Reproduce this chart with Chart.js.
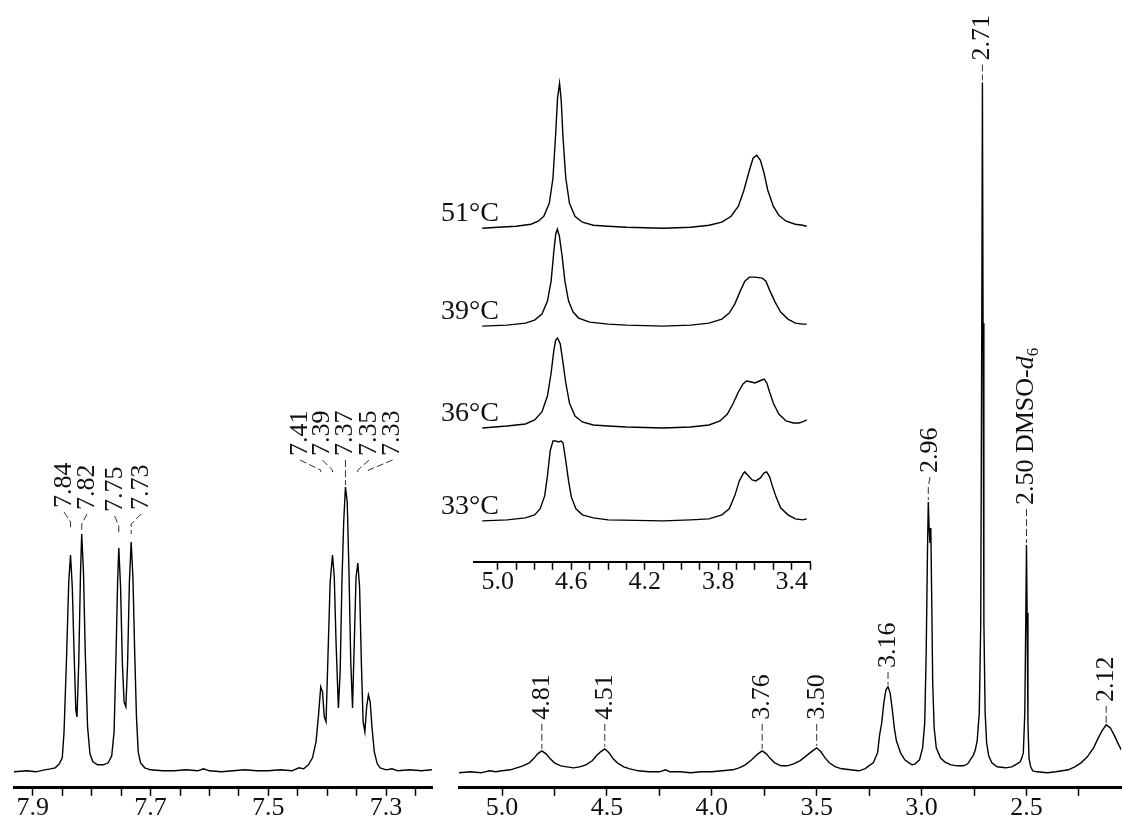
<!DOCTYPE html>
<html>
<head>
<meta charset="utf-8">
<title>1H NMR spectrum</title>
<script src="https://cdn.jsdelivr.net/npm/chart.js@4.4.0/dist/chart.umd.min.js"></script>
<style>
  html, body { margin: 0; padding: 0; background: #fff; overflow: hidden; }
  body { width: 1122px; height: 818px; position: relative; }
  .panel { position: absolute; top: 0; }
</style>
</head>
<body>
<div class="panel" id="aromaticWrap" style="left:0px"><canvas id="aromaticChart" width="445" height="830"></canvas></div>
<div class="panel" id="aliphaticWrap" style="left:440px"><canvas id="aliphaticChart" width="682" height="830"></canvas></div>
<div class="panel" id="insetWrap" style="left:380px"><canvas id="insetChart" width="460" height="620"></canvas></div>

<script>
// ---- aromatic region (ppm, height above baseline) ----
const aromaticPpm = [7.932, 7.91, 7.895, 7.88, 7.87, 7.862, 7.855, 7.850, 7.847, 7.843, 7.839, 7.836, 7.833, 7.830, 7.827, 7.825,
  7.822, 7.819, 7.817, 7.814, 7.811, 7.807, 7.803, 7.798, 7.79, 7.78, 7.772, 7.766, 7.762, 7.759, 7.756, 7.754, 7.751, 7.748,
  7.745, 7.742, 7.739, 7.736, 7.733, 7.730, 7.727, 7.724, 7.721, 7.717, 7.71, 7.70, 7.68, 7.66, 7.64, 7.62, 7.61, 7.60, 7.58,
  7.56, 7.54, 7.52, 7.50, 7.48, 7.46, 7.448, 7.44, 7.432, 7.425, 7.419, 7.415, 7.411, 7.408, 7.405, 7.402, 7.399, 7.395, 7.391,
  7.388, 7.385, 7.381, 7.378, 7.375, 7.372, 7.369, 7.366, 7.363, 7.360, 7.357, 7.354, 7.351, 7.348, 7.345, 7.342, 7.339, 7.336,
  7.333, 7.330, 7.327, 7.324, 7.320, 7.315, 7.31, 7.30, 7.29, 7.28, 7.26, 7.24, 7.222];
const aromaticInt = [0, 1, 0, 2, 3, 4, 8, 14, 40, 110, 190, 217, 185, 120, 62, 55,
  110, 200, 238, 200, 120, 45, 18, 10, 7, 7, 9, 16, 40, 110, 190, 224, 185, 110,
  70, 65, 110, 190, 230, 195, 120, 55, 20, 9, 4, 2, 1, 1, 2, 1, 3, 1, 0,
  1, 2, 1, 1, 2, 1, 4, 3, 7, 14, 30, 55, 85, 80, 55, 50, 110, 190, 217,
  195, 130, 64, 100, 190, 250, 285, 270, 200, 110, 64, 130, 195, 209, 185, 110, 50, 40,
  65, 77, 70, 45, 20, 8, 4, 2, 3, 1, 2, 1, 2];
const aromaticTicks = ['7.9', '7.7', '7.5', '7.3'];
const aromaticLabels = ['7.84', '7.82', '7.75', '7.73', '7.41', '7.39', '7.37', '7.35', '7.33'];
const aromaticPeakPpm = [7.836, 7.817, 7.754, 7.733, 7.411, 7.391, 7.369, 7.348, 7.330];

// ---- aliphatic region (ppm, height above baseline) ----
const aliphaticPpm = [5.205, 5.15, 5.10, 5.06, 5.03, 5.00, 4.96, 4.93, 4.90, 4.87, 4.85, 4.83, 4.81, 4.79, 4.77, 4.75, 4.72,
  4.69, 4.66, 4.63, 4.60, 4.57, 4.55, 4.53, 4.51, 4.49, 4.47, 4.45, 4.42, 4.39, 4.35, 4.30, 4.25, 4.22, 4.20, 4.15, 4.10,
  4.05, 4.00, 3.95, 3.90, 3.87, 3.84, 3.81, 3.78, 3.76, 3.74, 3.72, 3.70, 3.67, 3.64, 3.61, 3.58, 3.55, 3.52, 3.50, 3.48,
  3.46, 3.44, 3.41, 3.38, 3.34, 3.30, 3.27, 3.245, 3.23, 3.21, 3.20, 3.19, 3.18, 3.17, 3.16, 3.15, 3.14, 3.13, 3.12, 3.10,
  3.08, 3.06, 3.045, 3.03, 3.01, 2.995, 2.985, 2.978, 2.972, 2.968, 2.964, 2.960, 2.956, 2.952, 2.947, 2.94, 2.93, 2.91,
  2.89, 2.86, 2.83, 2.80, 2.78, 2.765, 2.755, 2.745, 2.735, 2.725, 2.718, 2.713, 2.710, 2.707, 2.703, 2.697, 2.69, 2.68,
  2.665, 2.64, 2.60, 2.57, 2.545, 2.53, 2.522, 2.515, 2.508, 2.503, 2.500, 2.497, 2.493, 2.488, 2.48, 2.47, 2.45, 2.40,
  2.36, 2.33, 2.30, 2.27, 2.24, 2.21, 2.18, 2.16, 2.14, 2.12, 2.10, 2.08, 2.065, 2.048];
const aliphaticInt = [0, 1, 0, 2, 1, 2, 3, 5, 7, 10, 14, 19, 22, 19, 14, 10, 7,
  6, 5, 6, 8, 12, 17, 21, 24, 20, 14, 10, 6, 4, 2, 1, 1, 3, 1, 1, 0,
  1, 1, 2, 3, 5, 8, 13, 19, 22, 19, 14, 10, 7, 7, 9, 12, 17, 22, 25, 21,
  15, 10, 6, 4, 3, 2, 4, 8, 10, 20, 38, 50, 70, 83, 86, 80, 64, 45, 32, 20,
  13, 10, 8, 9, 13, 25, 50, 120, 220, 271, 245, 230, 245, 180, 90, 45, 25, 15,
  11, 8, 7, 7, 9, 14, 17, 22, 32, 60, 150, 450, 691, 450, 150, 60, 30, 17,
  10, 6, 5, 6, 9, 11, 15, 20, 60, 160, 228, 160, 50, 15, 6, 2, 1, 0,
  1, 2, 3, 6, 10, 16, 25, 34, 42, 48, 45, 37, 30, 23];
const aliphaticTicks = ['5.0', '4.5', '4.0', '3.5', '3.0', '2.5'];
const aliphaticLabels = ['4.81', '4.51', '3.76', '3.50', '3.16', '2.96', '2.71', '2.50 DMSO-d6', '2.12'];
const aliphaticPeakPpm = [4.81, 4.51, 3.76, 3.50, 3.16, 2.968, 2.710, 2.500, 2.12];

// ---- inset: variable temperature traces (ppm, height above own baseline) ----
const insetTemps = ['51°C', '39°C', '36°C', '33°C'];
const t51Ppm = [5.085, 5.0, 4.90, 4.82, 4.78, 4.75, 4.72, 4.70, 4.685, 4.675, 4.664, 4.655, 4.645, 4.63, 4.61, 4.58, 4.54,
  4.48, 4.40, 4.30, 4.10, 3.95, 3.85, 3.78, 3.73, 3.69, 3.66, 3.63, 3.61, 3.59, 3.57, 3.55, 3.53, 3.50, 3.47, 3.43, 3.38, 3.34, 3.318];
const t51Int = [0, 1, 2, 4, 7, 12, 25, 50, 95, 130, 145, 128, 90, 50, 25, 12, 6,
  3, 2, 1, 0, 1, 3, 6, 12, 22, 38, 58, 70, 73, 68, 55, 38, 22, 13, 7, 4, 3, 2];
const t39Ppm = [5.085, 4.95, 4.85, 4.80, 4.76, 4.73, 4.71, 4.695, 4.685, 4.676, 4.665, 4.65, 4.635, 4.615, 4.59, 4.56, 4.50,
  4.40, 4.30, 4.10, 3.95, 3.85, 3.78, 3.74, 3.71, 3.68, 3.655, 3.63, 3.60, 3.56, 3.54, 3.52, 3.49, 3.46, 3.42, 3.38, 3.34, 3.318];
const t39Int = [0, 1, 3, 6, 12, 25, 45, 75, 92, 97, 90, 70, 45, 25, 14, 8, 4,
  2, 1, 0, 1, 3, 7, 13, 22, 35, 45, 49, 49, 48, 45, 36, 24, 14, 7, 3, 2, 2];
const t36Ppm = [5.085, 4.95, 4.85, 4.80, 4.76, 4.73, 4.71, 4.695, 4.685, 4.675, 4.66, 4.645, 4.63, 4.61, 4.58, 4.54, 4.48,
  4.40, 4.30, 4.10, 3.95, 3.85, 3.79, 3.75, 3.72, 3.69, 3.665, 3.645, 3.62, 3.60, 3.575, 3.55, 3.535, 3.52, 3.50, 3.47,
  3.43, 3.39, 3.36, 3.34, 3.318];
const t36Int = [0, 2, 4, 8, 16, 32, 55, 78, 88, 90, 84, 65, 45, 25, 12, 6, 3,
  2, 1, 0, 1, 3, 7, 14, 24, 36, 44, 47, 46, 45, 47, 49, 45, 36, 25, 14,
  7, 5, 5, 6, 8];
const t33Ppm = [5.085, 4.95, 4.85, 4.80, 4.77, 4.745, 4.73, 4.715, 4.70, 4.685, 4.67, 4.655, 4.645, 4.63, 4.615, 4.60, 4.575,
  4.54, 4.48, 4.40, 4.10, 3.95, 3.85, 3.78, 3.74, 3.71, 3.685, 3.665, 3.655, 3.64, 3.615, 3.595, 3.57, 3.55, 3.536, 3.52,
  3.505, 3.485, 3.46, 3.42, 3.38, 3.34, 3.318];
const t33Int = [0, 1, 3, 6, 12, 25, 45, 70, 80, 80, 79, 80, 78, 60, 40, 24, 12,
  6, 3, 1, 0, 1, 2, 6, 12, 25, 40, 47, 49, 46, 41, 40, 43, 48, 49, 44,
  35, 24, 13, 6, 2, 1, 2];
const insetTicks = ['5.0', '4.6', '4.2', '3.8', '3.4'];

// ---- layout (page pixels / style, kept apart from the data) ----
const SERIF = "'Liberation Serif', 'Times New Roman', serif";
const insetBaselines = [334, 236, 134, 41];   // trace baselines above inset axis
const aromaticLayout = {
  labelPpm: [7.847, 7.808, 7.761, 7.716, 7.446, 7.408, 7.369, 7.329, 7.289],
  textBottom: [264, 262, 260, 262, 316, 316, 316, 316, 316],
  reach: [22, 24, 22, 24, 16, 16, 999, 16, 16]
};
const aliphaticLayout = {
  labelPpm: [4.81, 4.51, 3.76, 3.50, 3.16, 2.96, 2.71, 2.50, 2.12],
  textBottom: [53, 53, 53, 53, 105, 300, 713, 268, 71],
  reach: [999, 999, 999, 999, 999, 999, 999, 999, 999]
};

function toPoints(xs, ys, shift) {
  return xs.map((x, i) => ({ x: x, y: ys[i] + (shift || 0) }));
}

function peakHeight(data, ppm, win) {
  let best = 0;
  data.forEach(p => { if (Math.abs(p.x - ppm) <= win && p.y > best) best = p.y; });
  return best;
}

function drawRichText(ctx, text, size) {
  // "2.50 DMSO-d6" gets an italic d and subscript 6
  let parts = [{ t: text }];
  const m = text.match(/^(.*-)d6$/);
  if (m) parts = [{ t: m[1] }, { t: 'd', italic: true }, { t: '6', sub: true }];
  let x = 0;
  parts.forEach(p => {
    const fs = p.sub ? Math.round(size * 0.65) : size;
    ctx.font = (p.italic ? 'italic ' : '') + fs + 'px ' + SERIF;
    ctx.fillText(p.t, x, p.sub ? size * 0.28 : 0);
    x += ctx.measureText(p.t).width;
  });
}

const peakLabelPlugin = {
  id: 'peakLabels',
  afterDatasetsDraw(chart, args, opts) {
    if (!opts.labels) return;
    const xs = chart.scales.x, ys = chart.scales.y, ctx = chart.ctx;
    const data = chart.data.datasets[0].data;
    ctx.save();
    opts.labels.forEach((text, i) => {
      const px = xs.getPixelForValue(opts.peaks[i]);
      const lx = xs.getPixelForValue(opts.layout.labelPpm[i]);
      const tb = ys.getPixelForValue(opts.layout.textBottom[i]);
      const top = ys.getPixelForValue(peakHeight(data, opts.peaks[i], opts.win)) - 2;

      ctx.save();
      ctx.translate(lx, tb);
      ctx.rotate(-Math.PI / 2);
      ctx.fillStyle = '#111';
      ctx.textAlign = 'left';
      ctx.textBaseline = 'middle';
      drawRichText(ctx, text, opts.fontSize);
      ctx.restore();

      // leader line
      const y0 = tb + 4;
      const yk = Math.min(tb + 14, top);
      const yEnd = Math.min(top, tb + opts.layout.reach[i]);
      ctx.strokeStyle = '#333';
      ctx.lineWidth = 1;
      ctx.setLineDash([7, 3]);
      ctx.beginPath();
      ctx.moveTo(lx, y0);
      ctx.lineTo(px, yk);
      if (yEnd > yk) ctx.lineTo(px, yEnd);
      ctx.stroke();
    });
    ctx.restore();
  }
};

const insetLabelPlugin = {
  id: 'insetLabels',
  afterDatasetsDraw(chart, args, opts) {
    if (!opts.labels) return;
    const xs = chart.scales.x, ys = chart.scales.y, ctx = chart.ctx;
    ctx.save();
    ctx.fillStyle = '#111';
    ctx.font = '28px ' + SERIF;
    ctx.textAlign = 'right';
    ctx.textBaseline = 'alphabetic';
    opts.labels.forEach((t, i) => {
      ctx.fillText(t, xs.getPixelForValue(5.0) + 1, ys.getPixelForValue(opts.baselines[i]) - 7);
    });
    ctx.restore();
  }
};

function tickFormatter(list) {
  return function(v) {
    const s = v.toFixed(1);
    return (list.includes(s) && Math.abs(v - parseFloat(s)) < 1e-6) ? s : '';
  };
}

function xAxis(min, max, step, labels, borderWidth) {
  return {
    type: 'linear',
    min: min,
    max: max,
    reverse: true,
    border: { display: true, color: '#000', width: borderWidth },
    grid: { display: true, drawOnChartArea: false, drawTicks: true, tickLength: 8, tickWidth: 1.5, tickColor: '#000' },
    ticks: {
      stepSize: step,
      includeBounds: false,
      autoSkip: false,
      maxRotation: 0,
      padding: -3,
      color: '#111',
      font: { family: SERIF, size: 26 },
      callback: tickFormatter(labels)
    }
  };
}

function baseOptions(xScale, padding) {
  return {
    responsive: false,
    animation: false,
    events: [],
    layout: { padding: padding },
    elements: { point: { radius: 0 }, line: { tension: 0, borderWidth: 1.4, borderColor: '#000' } },
    plugins: { legend: { display: false }, tooltip: { enabled: false } },
    scales: { x: xScale, y: { display: false, min: -16, max: 800 } }
  };
}

// one css pixel per intensity unit, with the axis line at the given page y
function pinChart(chart, wrap, yMin, bottomPx) {
  const area = chart.chartArea;
  chart.options.scales.y.min = yMin;
  chart.options.scales.y.max = yMin + (area.bottom - area.top);
  chart.update('none');
  wrap.style.top = (bottomPx - chart.chartArea.bottom) + 'px';
}

Chart.register(peakLabelPlugin, insetLabelPlugin);

// aromatic panel
const aromaticData = toPoints(aromaticPpm, aromaticInt);
const aromaticOpts = baseOptions(xAxis(7.222, 7.932, 0.05, aromaticTicks, 3), { left: 14, right: 13, top: 0, bottom: 0 });
aromaticOpts.plugins.peakLabels = { labels: aromaticLabels, peaks: aromaticPeakPpm, layout: aromaticLayout, win: 0.005, fontSize: 26 };
const aromaticChart = new Chart(document.getElementById('aromaticChart'), {
  type: 'line',
  data: { datasets: [{ data: aromaticData, borderColor: '#000', borderWidth: 1.4, fill: false }] },
  options: aromaticOpts
});
pinChart(aromaticChart, document.getElementById('aromaticWrap'), -16, 788);

// aliphatic panel
const aliphaticData = toPoints(aliphaticPpm, aliphaticInt);
const aliphaticOpts = baseOptions(xAxis(2.048, 5.205, 0.25, aliphaticTicks, 3), { left: 19, right: 0, top: 0, bottom: 0 });
aliphaticOpts.plugins.peakLabels = { labels: aliphaticLabels, peaks: aliphaticPeakPpm, layout: aliphaticLayout, win: 0.01, fontSize: 26 };
const aliphaticChart = new Chart(document.getElementById('aliphaticChart'), {
  type: 'line',
  data: { datasets: [{ data: aliphaticData, borderColor: '#000', borderWidth: 1.4, fill: false }] },
  options: aliphaticOpts
});
pinChart(aliphaticChart, document.getElementById('aliphaticWrap'), -15, 788);

// inset with the four temperatures
const insetSeries = [[t51Ppm, t51Int], [t39Ppm, t39Int], [t36Ppm, t36Int], [t33Ppm, t33Int]];
const insetAxis = xAxis(3.30, 5.13, 0.1, insetTicks, 2);
insetAxis.afterBuildTicks = function(scale) {
  scale.ticks = scale.ticks.filter(t => t.value <= 5.0001);
};
const insetOpts = baseOptions(insetAxis, { left: 94, right: 30, top: 0, bottom: 0 });
insetOpts.plugins.insetLabels = { labels: insetTemps, baselines: insetBaselines };
const insetChart = new Chart(document.getElementById('insetChart'), {
  type: 'line',
  data: {
    datasets: insetSeries.map((s, i) => ({
      label: insetTemps[i],
      data: toPoints(s[0], s[1], insetBaselines[i]),
      borderColor: '#000',
      borderWidth: 1.4,
      fill: false
    }))
  },
  options: insetOpts
});
pinChart(insetChart, document.getElementById('insetWrap'), 0, 562);
</script>
</body>
</html>
